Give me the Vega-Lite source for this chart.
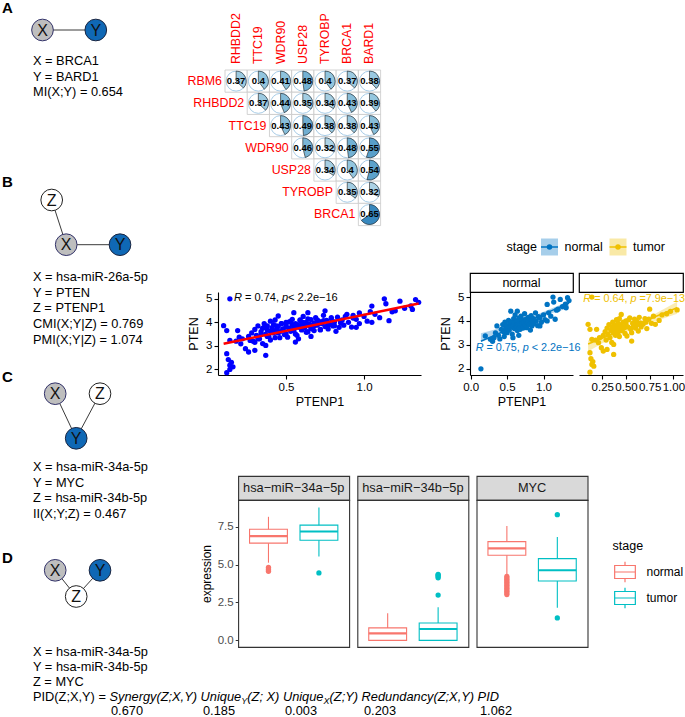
{
"$schema": "https://vega.github.io/schema/vega-lite/v6.json",
"padding": 0,
"background": "white",
"config": {
  "view": {"stroke": null},
  "font": "Liberation Sans",
  "text": {"font": "Liberation Sans", "color": "black"},
  "axis": {"labelFont": "Liberation Sans", "titleFont": "Liberation Sans", "grid": false, "titleFontWeight": "normal", "labelOverlap": false}
},
"datasets": {
  "nodes": [
    {"panel":"A","node":"X","gx":42.5,"gy":30},
    {"panel":"A","node":"Y","gx":95.8,"gy":30},
    {"panel":"B","node":"Z","gx":51.7,"gy":200},
    {"panel":"B","node":"X","gx":66.2,"gy":244.7},
    {"panel":"B","node":"Y","gx":120,"gy":244.7},
    {"panel":"C","node":"X","gx":55.2,"gy":393.7},
    {"panel":"C","node":"Z","gx":100,"gy":393.7},
    {"panel":"C","node":"Y","gx":76.2,"gy":438.3},
    {"panel":"D","node":"X","gx":55.2,"gy":570.3},
    {"panel":"D","node":"Y","gx":100,"gy":570.3},
    {"panel":"D","node":"Z","gx":76.2,"gy":596.5}
  ],
  "edges": [
    {"panel":"A","x1":42.5,"y1":30,"x2":95.8,"y2":30},
    {"panel":"B","x1":51.7,"y1":200,"x2":66.2,"y2":244.7},
    {"panel":"B","x1":66.2,"y1":244.7,"x2":120,"y2":244.7},
    {"panel":"C","x1":55.2,"y1":393.7,"x2":76.2,"y2":438.3},
    {"panel":"C","x1":100,"y1":393.7,"x2":76.2,"y2":438.3},
    {"panel":"D","x1":55.2,"y1":570.3,"x2":76.2,"y2":596.5},
    {"panel":"D","x1":100,"y1":570.3,"x2":76.2,"y2":596.5}
  ],
  "panels": [
    {"panel":"A","gx":2,"gy":8},
    {"panel":"B","gx":2,"gy":182},
    {"panel":"C","gx":2,"gy":377},
    {"panel":"D","gx":2,"gy":557.5}
  ],
  "lines": [
    {"gx":33,"gy":61,"text":"X = BRCA1"},
    {"gx":33,"gy":76.7,"text":"Y = BARD1"},
    {"gx":33,"gy":92,"text":"MI(X;Y) = 0.654"},
    {"gx":33,"gy":277,"text":"X = hsa-miR-26a-5p"},
    {"gx":33,"gy":292.7,"text":"Y = PTEN"},
    {"gx":33,"gy":308.3,"text":"Z = PTENP1"},
    {"gx":33,"gy":324,"text":"CMI(X;Y|Z) = 0.769"},
    {"gx":33,"gy":339.5,"text":"PMI(X;Y|Z) = 1.074"},
    {"gx":33,"gy":467,"text":"X = hsa-miR-34a-5p"},
    {"gx":33,"gy":483,"text":"Y = MYC"},
    {"gx":33,"gy":498.3,"text":"Z = hsa-miR-34b-5p"},
    {"gx":33,"gy":513.5,"text":"II(X;Y;Z) = 0.467"},
    {"gx":33,"gy":652,"text":"X = hsa-miR-34a-5p"},
    {"gx":33,"gy":667,"text":"Y = hsa-miR-34b-5p"},
    {"gx":33,"gy":682,"text":"Z = MYC"},
    {"gx":33,"gy":697,"text":"PID(Z;X,Y) ="},
    {"gx":111,"gy":711,"text":"0.670"},
    {"gx":203,"gy":711,"text":"0.185"},
    {"gx":285,"gy":711,"text":"0.003"},
    {"gx":364,"gy":711,"text":"0.203"},
    {"gx":480,"gy":711,"text":"1.062"}
  ],
  "terms": [
    {"gx":109.5,"gy":697,"text":"Synergy(Z;X,Y)"},
    {"gx":200.6,"gy":697,"text":"Unique"},
    {"gx":247.3,"gy":697,"text":"(Z; X)"},
    {"gx":282.9,"gy":697,"text":"Unique"},
    {"gx":329.6,"gy":697,"text":"(Z;Y)"},
    {"gx":361.6,"gy":697,"text":"Redundancy(Z;X,Y)"},
    {"gx":477.6,"gy":697,"text":"PID"}
  ],
  "subs": [
    {"gx":241.3,"gy":701,"text":"Y"},
    {"gx":323.6,"gy":701,"text":"X"}
  ],
  "corr": [
    {"row":"RBM6","col":"RHBDD2","value":0.37},{"row":"RBM6","col":"TTC19","value":0.4},{"row":"RBM6","col":"WDR90","value":0.41},{"row":"RBM6","col":"USP28","value":0.48},{"row":"RBM6","col":"TYROBP","value":0.4},{"row":"RBM6","col":"BRCA1","value":0.37},{"row":"RBM6","col":"BARD1","value":0.38},
    {"row":"RHBDD2","col":"TTC19","value":0.37},{"row":"RHBDD2","col":"WDR90","value":0.44},{"row":"RHBDD2","col":"USP28","value":0.35},{"row":"RHBDD2","col":"TYROBP","value":0.34},{"row":"RHBDD2","col":"BRCA1","value":0.43},{"row":"RHBDD2","col":"BARD1","value":0.39},
    {"row":"TTC19","col":"WDR90","value":0.43},{"row":"TTC19","col":"USP28","value":0.49},{"row":"TTC19","col":"TYROBP","value":0.38},{"row":"TTC19","col":"BRCA1","value":0.38},{"row":"TTC19","col":"BARD1","value":0.43},
    {"row":"WDR90","col":"USP28","value":0.46},{"row":"WDR90","col":"TYROBP","value":0.32},{"row":"WDR90","col":"BRCA1","value":0.48},{"row":"WDR90","col":"BARD1","value":0.55},
    {"row":"USP28","col":"TYROBP","value":0.34},{"row":"USP28","col":"BRCA1","value":0.4},{"row":"USP28","col":"BARD1","value":0.54},
    {"row":"TYROBP","col":"BRCA1","value":0.35},{"row":"TYROBP","col":"BARD1","value":0.32},
    {"row":"BRCA1","col":"BARD1","value":0.65}
  ],
  "corrRows": [
    {"gene":"RBM6","first":"RHBDD2"},{"gene":"RHBDD2","first":"TTC19"},{"gene":"TTC19","first":"WDR90"},{"gene":"WDR90","first":"USP28"},{"gene":"USP28","first":"TYROBP"},{"gene":"TYROBP","first":"BRCA1"},{"gene":"BRCA1","first":"BARD1"}
  ],
  "corrCols": [
    {"gene":"RHBDD2"},{"gene":"TTC19"},{"gene":"WDR90"},{"gene":"USP28"},{"gene":"TYROBP"},{"gene":"BRCA1"},{"gene":"BARD1"}
  ],
  "scatter": [
    {"stage":"normal","PTENP1":0.14,"PTEN":2.00},{"stage":"normal","PTENP1":0.20,"PTEN":3.37},{"stage":"normal","PTENP1":0.27,"PTEN":3.23},{"stage":"normal","PTENP1":0.30,"PTEN":3.15},{"stage":"normal","PTENP1":0.32,"PTEN":3.30},{"stage":"normal","PTENP1":0.34,"PTEN":3.50},{"stage":"normal","PTENP1":0.36,"PTEN":3.79},{"stage":"normal","PTENP1":0.38,"PTEN":3.40},{"stage":"normal","PTENP1":0.40,"PTEN":3.25},
    {"stage":"normal","PTENP1":0.42,"PTEN":3.65},{"stage":"normal","PTENP1":0.44,"PTEN":3.85},{"stage":"normal","PTENP1":0.45,"PTEN":3.55},{"stage":"normal","PTENP1":0.46,"PTEN":3.35},{"stage":"normal","PTENP1":0.47,"PTEN":3.95},{"stage":"normal","PTENP1":0.48,"PTEN":3.70},{"stage":"normal","PTENP1":0.50,"PTEN":3.51},{"stage":"normal","PTENP1":0.50,"PTEN":3.80},{"stage":"normal","PTENP1":0.52,"PTEN":4.02},{"stage":"normal","PTENP1":0.53,"PTEN":3.62},
    {"stage":"normal","PTENP1":0.54,"PTEN":3.88},{"stage":"normal","PTENP1":0.55,"PTEN":4.41},{"stage":"normal","PTENP1":0.55,"PTEN":3.75},{"stage":"normal","PTENP1":0.56,"PTEN":3.95},{"stage":"normal","PTENP1":0.57,"PTEN":3.45},{"stage":"normal","PTENP1":0.58,"PTEN":3.82},{"stage":"normal","PTENP1":0.58,"PTEN":3.30},{"stage":"normal","PTENP1":0.59,"PTEN":4.10},{"stage":"normal","PTENP1":0.60,"PTEN":3.68},{"stage":"normal","PTENP1":0.60,"PTEN":3.92},
    {"stage":"normal","PTENP1":0.61,"PTEN":4.25},{"stage":"normal","PTENP1":0.62,"PTEN":3.78},{"stage":"normal","PTENP1":0.63,"PTEN":4.00},{"stage":"normal","PTENP1":0.64,"PTEN":4.41},{"stage":"normal","PTENP1":0.64,"PTEN":3.60},{"stage":"normal","PTENP1":0.65,"PTEN":3.86},{"stage":"normal","PTENP1":0.66,"PTEN":4.12},{"stage":"normal","PTENP1":0.66,"PTEN":3.40},{"stage":"normal","PTENP1":0.67,"PTEN":3.72},{"stage":"normal","PTENP1":0.68,"PTEN":3.65},
    {"stage":"normal","PTENP1":0.68,"PTEN":3.98},{"stage":"normal","PTENP1":0.69,"PTEN":4.20},{"stage":"normal","PTENP1":0.70,"PTEN":3.88},{"stage":"normal","PTENP1":0.71,"PTEN":4.05},{"stage":"normal","PTENP1":0.72,"PTEN":3.70},{"stage":"normal","PTENP1":0.73,"PTEN":3.95},{"stage":"normal","PTENP1":0.74,"PTEN":4.30},{"stage":"normal","PTENP1":0.75,"PTEN":3.82},{"stage":"normal","PTENP1":0.76,"PTEN":4.08},{"stage":"normal","PTENP1":0.77,"PTEN":3.72},
    {"stage":"normal","PTENP1":0.78,"PTEN":3.92},{"stage":"normal","PTENP1":0.79,"PTEN":4.15},{"stage":"normal","PTENP1":0.80,"PTEN":3.85},{"stage":"normal","PTENP1":0.81,"PTEN":4.02},{"stage":"normal","PTENP1":0.82,"PTEN":3.62},{"stage":"normal","PTENP1":0.83,"PTEN":4.22},{"stage":"normal","PTENP1":0.84,"PTEN":3.79},{"stage":"normal","PTENP1":0.85,"PTEN":3.98},{"stage":"normal","PTENP1":0.86,"PTEN":4.10},{"stage":"normal","PTENP1":0.87,"PTEN":3.88},
    {"stage":"normal","PTENP1":0.89,"PTEN":4.34},{"stage":"normal","PTENP1":0.90,"PTEN":4.00},{"stage":"normal","PTENP1":0.92,"PTEN":3.80},{"stage":"normal","PTENP1":0.93,"PTEN":4.18},{"stage":"normal","PTENP1":0.95,"PTEN":4.13},{"stage":"normal","PTENP1":0.95,"PTEN":3.79},{"stage":"normal","PTENP1":0.97,"PTEN":3.95},{"stage":"normal","PTENP1":1.00,"PTEN":4.25},{"stage":"normal","PTENP1":1.02,"PTEN":4.05},{"stage":"normal","PTENP1":1.05,"PTEN":4.00},
    {"stage":"normal","PTENP1":1.05,"PTEN":4.69},{"stage":"normal","PTENP1":1.07,"PTEN":4.34},{"stage":"normal","PTENP1":1.10,"PTEN":4.20},{"stage":"normal","PTENP1":1.13,"PTEN":5.00},{"stage":"normal","PTENP1":1.14,"PTEN":4.79},{"stage":"normal","PTENP1":1.16,"PTEN":4.07},{"stage":"normal","PTENP1":1.18,"PTEN":4.45},{"stage":"normal","PTENP1":1.20,"PTEN":4.49},{"stage":"normal","PTENP1":1.23,"PTEN":4.90},{"stage":"normal","PTENP1":1.26,"PTEN":4.60},
    {"stage":"normal","PTENP1":1.30,"PTEN":4.70},{"stage":"normal","PTENP1":1.31,"PTEN":4.55},{"stage":"normal","PTENP1":1.33,"PTEN":4.97},{"stage":"normal","PTENP1":1.35,"PTEN":4.85},
    {"stage":"tumor","PTENP1":0.14,"PTEN":5.00},{"stage":"tumor","PTENP1":0.12,"PTEN":2.67},{"stage":"tumor","PTENP1":0.13,"PTEN":2.42},{"stage":"tumor","PTENP1":0.14,"PTEN":2.18},{"stage":"tumor","PTENP1":0.16,"PTEN":2.11},{"stage":"tumor","PTENP1":0.12,"PTEN":1.86},{"stage":"tumor","PTENP1":0.15,"PTEN":2.30},
    {"stage":"tumor","PTENP1":0.14,"PTEN":3.23},{"stage":"tumor","PTENP1":0.12,"PTEN":3.65},{"stage":"tumor","PTENP1":0.10,"PTEN":3.86},{"stage":"tumor","PTENP1":0.19,"PTEN":3.65},{"stage":"tumor","PTENP1":0.21,"PTEN":3.09},{"stage":"tumor","PTENP1":0.24,"PTEN":2.88},{"stage":"tumor","PTENP1":0.26,"PTEN":2.74},{"stage":"tumor","PTENP1":0.22,"PTEN":3.30},{"stage":"tumor","PTENP1":0.18,"PTEN":3.20},{"stage":"tumor","PTENP1":0.30,"PTEN":2.81},{"stage":"tumor","PTENP1":0.37,"PTEN":2.60},{"stage":"tumor","PTENP1":0.37,"PTEN":3.02},
    {"stage":"tumor","PTENP1":0.26,"PTEN":3.40},{"stage":"tumor","PTENP1":0.28,"PTEN":3.55},{"stage":"tumor","PTENP1":0.29,"PTEN":3.20},{"stage":"tumor","PTENP1":0.30,"PTEN":3.70},{"stage":"tumor","PTENP1":0.31,"PTEN":3.45},{"stage":"tumor","PTENP1":0.32,"PTEN":3.85},{"stage":"tumor","PTENP1":0.33,"PTEN":3.30},{"stage":"tumor","PTENP1":0.34,"PTEN":3.60},{"stage":"tumor","PTENP1":0.35,"PTEN":3.75},{"stage":"tumor","PTENP1":0.35,"PTEN":3.10},
    {"stage":"tumor","PTENP1":0.36,"PTEN":3.95},{"stage":"tumor","PTENP1":0.37,"PTEN":3.50},{"stage":"tumor","PTENP1":0.38,"PTEN":3.68},{"stage":"tumor","PTENP1":0.38,"PTEN":3.85},{"stage":"tumor","PTENP1":0.39,"PTEN":3.40},{"stage":"tumor","PTENP1":0.40,"PTEN":3.62},{"stage":"tumor","PTENP1":0.40,"PTEN":4.05},{"stage":"tumor","PTENP1":0.41,"PTEN":3.78},{"stage":"tumor","PTENP1":0.42,"PTEN":3.55},{"stage":"tumor","PTENP1":0.42,"PTEN":3.90},
    {"stage":"tumor","PTENP1":0.43,"PTEN":4.10},{"stage":"tumor","PTENP1":0.43,"PTEN":3.35},{"stage":"tumor","PTENP1":0.44,"PTEN":3.70},{"stage":"tumor","PTENP1":0.45,"PTEN":4.27},{"stage":"tumor","PTENP1":0.45,"PTEN":3.82},{"stage":"tumor","PTENP1":0.46,"PTEN":3.60},{"stage":"tumor","PTENP1":0.47,"PTEN":3.95},{"stage":"tumor","PTENP1":0.48,"PTEN":3.72},{"stage":"tumor","PTENP1":0.49,"PTEN":3.48},{"stage":"tumor","PTENP1":0.50,"PTEN":3.88},
    {"stage":"tumor","PTENP1":0.50,"PTEN":4.00},{"stage":"tumor","PTENP1":0.51,"PTEN":3.37},{"stage":"tumor","PTENP1":0.52,"PTEN":3.75},{"stage":"tumor","PTENP1":0.53,"PTEN":4.05},{"stage":"tumor","PTENP1":0.54,"PTEN":4.13},{"stage":"tumor","PTENP1":0.55,"PTEN":3.65},{"stage":"tumor","PTENP1":0.56,"PTEN":3.51},{"stage":"tumor","PTENP1":0.56,"PTEN":3.16},{"stage":"tumor","PTENP1":0.57,"PTEN":3.90},{"stage":"tumor","PTENP1":0.58,"PTEN":3.80},
    {"stage":"tumor","PTENP1":0.59,"PTEN":4.08},{"stage":"tumor","PTENP1":0.60,"PTEN":3.70},{"stage":"tumor","PTENP1":0.61,"PTEN":4.00},{"stage":"tumor","PTENP1":0.62,"PTEN":3.85},{"stage":"tumor","PTENP1":0.63,"PTEN":3.58},{"stage":"tumor","PTENP1":0.64,"PTEN":4.15},{"stage":"tumor","PTENP1":0.65,"PTEN":3.92},{"stage":"tumor","PTENP1":0.66,"PTEN":3.75},{"stage":"tumor","PTENP1":0.68,"PTEN":3.86},{"stage":"tumor","PTENP1":0.70,"PTEN":4.10},
    {"stage":"tumor","PTENP1":0.71,"PTEN":3.95},{"stage":"tumor","PTENP1":0.72,"PTEN":3.68},{"stage":"tumor","PTENP1":0.74,"PTEN":4.07},{"stage":"tumor","PTENP1":0.75,"PTEN":4.49},{"stage":"tumor","PTENP1":0.77,"PTEN":3.90},{"stage":"tumor","PTENP1":0.79,"PTEN":4.20},{"stage":"tumor","PTENP1":0.81,"PTEN":3.86},{"stage":"tumor","PTENP1":0.85,"PTEN":4.02},{"stage":"tumor","PTENP1":0.88,"PTEN":4.25},{"stage":"tumor","PTENP1":0.93,"PTEN":4.30},
    {"stage":"tumor","PTENP1":0.97,"PTEN":4.40},{"stage":"tumor","PTENP1":1.04,"PTEN":4.46}
  ],
  "band": [
    {"stage":"normal","PTENP1":0.14,"lo":3.17,"hi":3.49},{"stage":"normal","PTENP1":0.40,"lo":3.54,"hi":3.70},{"stage":"normal","PTENP1":0.70,"lo":3.91,"hi":4.01},{"stage":"normal","PTENP1":1.00,"lo":4.22,"hi":4.38},{"stage":"normal","PTENP1":1.35,"lo":4.53,"hi":4.83},
    {"stage":"tumor","PTENP1":0.10,"lo":2.72,"hi":3.18},{"stage":"tumor","PTENP1":0.30,"lo":3.17,"hi":3.41},{"stage":"tumor","PTENP1":0.45,"lo":3.45,"hi":3.63},{"stage":"tumor","PTENP1":0.75,"lo":3.90,"hi":4.18},{"stage":"tumor","PTENP1":1.04,"lo":4.30,"hi":4.80}
  ],
  "stats": [
    {"stage":"all","lx":0.1666,"ly":5.03,"rtext":"= 0.74,","ptext":"< 2.2e−16"},
    {"stage":"normal","lx":0.068,"ly":2.88,"rtext":"= 0.75,","ptext":"< 2.2e−16"},
    {"stage":"tumor","lx":0.05,"ly":4.93,"rtext":"= 0.64,","ptext":"=7.9e−13"}
  ],
  "boxes": [
    {"gene":"hsa-miR-34a-5p","stage":"normal","lower":5.13,"q1":6.42,"median":6.88,"q3":7.34,"upper":8.16},
    {"gene":"hsa-miR-34a-5p","stage":"tumor","lower":5.53,"q1":6.61,"median":7.19,"q3":7.61,"upper":8.78},
    {"gene":"hsa-miR-34b-5p","stage":"normal","lower":0.0,"q1":0.0,"median":0.46,"q3":0.82,"upper":1.79},
    {"gene":"hsa-miR-34b-5p","stage":"tumor","lower":0.0,"q1":0.0,"median":0.75,"q3":1.15,"upper":2.19},
    {"gene":"MYC","stage":"normal","lower":4.35,"q1":5.62,"median":6.08,"q3":6.52,"upper":7.56},
    {"gene":"MYC","stage":"tumor","lower":2.15,"q1":3.92,"median":4.63,"q3":5.40,"upper":6.83}
  ],
  "outliers": [
    {"gene":"hsa-miR-34a-5p","stage":"normal","value":4.82},{"gene":"hsa-miR-34a-5p","stage":"normal","value":4.72},{"gene":"hsa-miR-34a-5p","stage":"normal","value":4.64},{"gene":"hsa-miR-34a-5p","stage":"normal","value":4.56},
    {"gene":"hsa-miR-34a-5p","stage":"tumor","value":4.45},
    {"gene":"hsa-miR-34b-5p","stage":"tumor","value":2.99},{"gene":"hsa-miR-34b-5p","stage":"tumor","value":4.13},{"gene":"hsa-miR-34b-5p","stage":"tumor","value":4.22},{"gene":"hsa-miR-34b-5p","stage":"tumor","value":4.30},{"gene":"hsa-miR-34b-5p","stage":"tumor","value":4.36},
    {"gene":"MYC","stage":"normal","value":4.22},{"gene":"MYC","stage":"normal","value":4.12},{"gene":"MYC","stage":"normal","value":4.02},{"gene":"MYC","stage":"normal","value":3.92},{"gene":"MYC","stage":"normal","value":3.82},{"gene":"MYC","stage":"normal","value":3.72},{"gene":"MYC","stage":"normal","value":3.62},{"gene":"MYC","stage":"normal","value":3.52},{"gene":"MYC","stage":"normal","value":3.42},{"gene":"MYC","stage":"normal","value":3.32},{"gene":"MYC","stage":"normal","value":3.22},{"gene":"MYC","stage":"normal","value":3.12},{"gene":"MYC","stage":"normal","value":3.02},
    {"gene":"MYC","stage":"tumor","value":8.30},{"gene":"MYC","stage":"tumor","value":1.48}
  ],
  "stages": [{"stage":"normal"},{"stage":"tumor"}]
},
"resolve": {"scale": {"color": "independent", "fill": "independent", "stroke": "independent"}},
"hconcat": [
  {
    "width": 218, "height": 717,
    "layer": [
      {"data": {"name": "edges"}, "mark": {"type": "rule", "stroke": "#3A3A3A", "strokeWidth": 1},
       "encoding": {
         "x": {"field": "x1", "type": "quantitative", "scale": {"domain": [0, 218], "nice": false, "zero": false}, "axis": null},
         "y": {"field": "y1", "type": "quantitative", "scale": {"domain": [0, 717], "nice": false, "zero": false, "reverse": true}, "axis": null},
         "x2": {"field": "x2"}, "y2": {"field": "y2"}}},
      {"data": {"name": "nodes"}, "mark": {"type": "point", "shape": "circle", "filled": true, "size": 470, "strokeWidth": 1, "opacity": 1},
       "encoding": {
         "x": {"field": "gx", "type": "quantitative", "axis": null},
         "y": {"field": "gy", "type": "quantitative", "axis": null},
         "fill": {"field": "node", "type": "nominal", "scale": {"domain": ["X","Y","Z"], "range": ["#BEBEBE","#0F68B5","#FFFFFF"]}, "legend": null},
         "stroke": {"field": "node", "type": "nominal", "scale": {"domain": ["X","Y","Z"], "range": ["#33336A","#1B2540","#222222"]}, "legend": null}}},
      {"data": {"name": "nodes"}, "mark": {"type": "text", "fontSize": 16, "color": "#111111", "dy": 0.5},
       "encoding": {
         "x": {"field": "gx", "type": "quantitative", "axis": null},
         "y": {"field": "gy", "type": "quantitative", "axis": null},
         "text": {"field": "node"}}},
      {"data": {"name": "panels"}, "mark": {"type": "text", "fontSize": 15, "fontWeight": "bold", "align": "left", "color": "black"},
       "encoding": {
         "x": {"field": "gx", "type": "quantitative", "axis": null},
         "y": {"field": "gy", "type": "quantitative", "axis": null},
         "text": {"field": "panel"}}},
      {"data": {"name": "lines"}, "mark": {"type": "text", "fontSize": 12.8, "align": "left", "color": "black"},
       "encoding": {
         "x": {"field": "gx", "type": "quantitative", "axis": null},
         "y": {"field": "gy", "type": "quantitative", "axis": null},
         "text": {"field": "text"}}},
      {"data": {"name": "terms"}, "mark": {"type": "text", "fontSize": 12.8, "fontStyle": "italic", "align": "left", "color": "black"},
       "encoding": {
         "x": {"field": "gx", "type": "quantitative", "axis": null},
         "y": {"field": "gy", "type": "quantitative", "axis": null},
         "text": {"field": "text"}}},
      {"data": {"name": "subs"}, "mark": {"type": "text", "fontSize": 9, "fontStyle": "italic", "align": "left", "color": "black"},
       "encoding": {
         "x": {"field": "gx", "type": "quantitative", "axis": null},
         "y": {"field": "gy", "type": "quantitative", "axis": null},
         "text": {"field": "text"}}}
    ]
  },
  {
    "resolve": {"scale": {"color": "independent", "fill": "independent", "stroke": "independent"}},
    "vconcat": [
      {"width": 1, "height": 70, "data": {"values": [{}]}, "mark": {"type": "point", "opacity": 0}},
      {
        "hconcat": [
          {"width": 0.4, "height": 1, "data": {"values": [{}]}, "mark": {"type": "point", "opacity": 0}},
          {
            "width": 155.6, "height": 155.6,
            "layer": [
              {"data": {"name": "corr"}, "mark": {"type": "rect", "fill": "white", "stroke": "#C8C8C8", "strokeWidth": 0.8},
               "encoding": {
                 "x": {"field": "col", "type": "nominal", "scale": {"domain": ["RHBDD2","TTC19","WDR90","USP28","TYROBP","BRCA1","BARD1"], "paddingInner": 0, "paddingOuter": 0}, "axis": null},
                 "y": {"field": "row", "type": "nominal", "scale": {"domain": ["RBM6","RHBDD2","TTC19","WDR90","USP28","TYROBP","BRCA1"], "paddingInner": 0, "paddingOuter": 0}, "axis": null}}},
              {"data": {"name": "corr"}, "mark": {"type": "point", "shape": "circle", "filled": false, "size": 400, "stroke": "#A6CBE6", "strokeWidth": 1, "opacity": 1},
               "encoding": {
                 "x": {"field": "col", "type": "nominal", "axis": null},
                 "y": {"field": "row", "type": "nominal", "axis": null}}},
              {"data": {"name": "corr"}, "mark": {"type": "arc", "outerRadius": 10, "stroke": "#1A1A1A", "strokeWidth": 0.6},
               "encoding": {
                 "x": {"field": "col", "type": "nominal", "axis": null},
                 "y": {"field": "row", "type": "nominal", "axis": null},
                 "theta": {"field": "value", "type": "quantitative", "stack": null, "scale": {"domain": [0, 1], "range": [0, 6.283185]}},
                 "fill": {"field": "value", "type": "quantitative", "scale": {"domain": [0, 0.2, 0.4, 0.6, 0.8, 1], "range": ["#FFFFFF","#D1E5F0","#92C5DE","#4393C3","#2166AC","#053061"]}, "legend": null}}},
              {"data": {"name": "corr"}, "mark": {"type": "text", "fontSize": 9.5, "fontWeight": "bold", "color": "black"},
               "encoding": {
                 "x": {"field": "col", "type": "nominal", "axis": null},
                 "y": {"field": "row", "type": "nominal", "axis": null},
                 "text": {"field": "value", "type": "quantitative", "format": ".2~f"}}},
              {"data": {"name": "corrRows"}, "mark": {"type": "text", "align": "right", "dx": -3, "fontSize": 12.4, "color": "#FF0000"},
               "encoding": {
                 "x": {"field": "first", "type": "nominal", "bandPosition": 0, "axis": null},
                 "y": {"field": "gene", "type": "nominal", "axis": null},
                 "text": {"field": "gene"}}},
              {"data": {"name": "corrCols"}, "mark": {"type": "text", "angle": 270, "align": "left", "baseline": "middle", "dx": 17, "fontSize": 12.4, "color": "#FF0000"},
               "encoding": {
                 "x": {"field": "gene", "type": "nominal", "axis": null},
                 "y": {"datum": "RBM6", "type": "nominal", "axis": null},
                 "text": {"field": "gene"}}}
            ]
          }
        ],
        "spacing": 6, "bounds": "flush"
      },
      {"width": 1, "height": 155.6, "data": {"values": [{}]}, "mark": {"type": "point", "opacity": 0}},
      {
        "resolve": {"scale": {"color": "independent", "fill": "independent", "stroke": "independent"}},
        "vconcat": [
          {
            "hconcat": [
              {"width": 246, "height": 1, "data": {"values": [{}]}, "mark": {"type": "point", "opacity": 0}},
              {
                "width": 213, "height": 42,
                "data": {"name": "stages"},
                "encoding": {"x": {"field": "stage", "type": "nominal", "scale": {"type": "point", "domain": ["normal","tumor"], "range": [79.5, 148], "padding": 0}, "axis": null}},
                "layer": [
                  {"mark": {"type": "point", "shape": "square", "filled": true, "size": 289, "opacity": 0.35, "strokeWidth": 0},
                   "encoding": {"color": {"field": "stage", "type": "nominal", "scale": {"domain": ["normal","tumor"], "range": ["#0073C2","#EFC000"]}, "legend": null}}},
                  {"mark": {"type": "point", "shape": "M-1,0L1,0", "filled": false, "size": 289, "strokeWidth": 1.5, "opacity": 1},
                   "encoding": {"color": {"field": "stage", "type": "nominal", "legend": null}}},
                  {"mark": {"type": "point", "shape": "circle", "filled": true, "size": 30, "opacity": 1},
                   "encoding": {"color": {"field": "stage", "type": "nominal", "legend": null}}},
                  {"mark": {"type": "text", "align": "left", "dx": 15, "fontSize": 12.5, "color": "black"},
                   "encoding": {"text": {"field": "stage"}}},
                  {"transform": [{"filter": "datum.stage === 'normal'"}],
                   "mark": {"type": "text", "text": "stage", "align": "right", "dx": -12.5, "fontSize": 12.5, "color": "black"}}
                ]
              }
            ],
            "spacing": 6, "bounds": "flush"
          },
          {"width": 1, "height": 46.4, "data": {"values": [{}]}, "mark": {"type": "point", "opacity": 0}},
          {
            "hconcat": [
              {"width": 246, "height": 1, "data": {"values": [{}]}, "mark": {"type": "point", "opacity": 0}},
              {"width": 103, "height": 19, "view": {"stroke": "black", "strokeWidth": 1.2, "fill": "white"},
               "data": {"values": [{"label": "normal"}]}, "mark": {"type": "text", "fontSize": 12.5, "color": "black"},
               "encoding": {"text": {"field": "label"}}},
              {"width": 104, "height": 19, "view": {"stroke": "black", "strokeWidth": 1.2, "fill": "white"},
               "data": {"values": [{"label": "tumor"}]}, "mark": {"type": "text", "fontSize": 12.5, "color": "black"},
               "encoding": {"text": {"field": "label"}}}
            ],
            "spacing": 6, "bounds": "flush"
          },
          {"width": 1, "height": 19, "data": {"values": [{}]}, "mark": {"type": "point", "opacity": 0}},
          {
            "hconcat": [
              {
                "width": 203, "height": 83,
                "encoding": {
                  "x": {"field": "PTENP1", "type": "quantitative", "scale": {"domain": [0.064, 1.365], "nice": false, "zero": false},
                        "axis": {"values": [0.5, 1.0], "format": ".1f", "title": "PTENP1", "domainColor": "black", "domainWidth": 1.1, "tickColor": "black", "tickWidth": 1.1, "tickSize": 4, "labelColor": "black", "labelFontSize": 11.5, "titleFontSize": 12.5, "titleColor": "black", "labelPadding": 2, "titlePadding": 3, "labelOverlap": false, "labelFlush": false, "labelBound": false}},
                  "y": {"field": "PTEN", "type": "quantitative", "scale": {"domain": [1.763, 5.29], "nice": false, "zero": false},
                        "axis": {"values": [2, 3, 4, 5], "title": "PTEN", "domainColor": "black", "domainWidth": 1.1, "tickColor": "black", "tickWidth": 1.1, "tickSize": 4, "labelColor": "black", "labelFontSize": 11.5, "titleFontSize": 12.5, "titleColor": "black", "labelPadding": 2, "titlePadding": 5, "labelOverlap": false, "labelFlush": false, "labelBound": false}}
                },
                "layer": [
                  {"data": {"name": "scatter"}, "mark": {"type": "point", "filled": true, "size": 28, "color": "#0000FF", "opacity": 1}},
                  {"data": {"name": "scatter"}, "transform": [{"regression": "PTEN", "on": "PTENP1"}],
                   "mark": {"type": "line", "color": "#FF0000", "strokeWidth": 2.5}},
                  {"data": {"name": "stats"}, "transform": [{"filter": "datum.stage === 'all'"}],
                   "mark": {"type": "text", "text": "R", "fontStyle": "italic", "align": "left", "fontSize": 11, "color": "black"},
                   "encoding": {"x": {"field": "lx", "type": "quantitative"}, "y": {"field": "ly", "type": "quantitative"}}},
                  {"data": {"name": "stats"}, "transform": [{"filter": "datum.stage === 'all'"}],
                   "mark": {"type": "text", "align": "left", "dx": 11, "fontSize": 11, "color": "black"},
                   "encoding": {"x": {"field": "lx", "type": "quantitative"}, "y": {"field": "ly", "type": "quantitative"}, "text": {"field": "rtext"}}},
                  {"data": {"name": "stats"}, "transform": [{"filter": "datum.stage === 'all'"}],
                   "mark": {"type": "text", "text": "p", "fontStyle": "italic", "align": "left", "dx": 48, "fontSize": 11, "color": "black"},
                   "encoding": {"x": {"field": "lx", "type": "quantitative"}, "y": {"field": "ly", "type": "quantitative"}}},
                  {"data": {"name": "stats"}, "transform": [{"filter": "datum.stage === 'all'"}],
                   "mark": {"type": "text", "align": "left", "dx": 54.1, "fontSize": 11, "color": "black"},
                   "encoding": {"x": {"field": "lx", "type": "quantitative"}, "y": {"field": "ly", "type": "quantitative"}, "text": {"field": "ptext"}}}
                ]
              },
              {"width": 37, "height": 1, "data": {"values": [{}]}, "mark": {"type": "point", "opacity": 0}},
              {
                "width": 103, "height": 83,
                "encoding": {
                  "x": {"field": "PTENP1", "type": "quantitative", "scale": {"domain": [-0.01, 1.405], "nice": false, "zero": false},
                        "axis": {"values": [0, 0.5, 1.0], "format": ".1f", "title": "PTENP1", "domainColor": "black", "domainWidth": 1.1, "tickColor": "black", "tickWidth": 1.1, "tickSize": 4, "labelColor": "black", "labelFontSize": 11.5, "titleFontSize": 12.5, "titleColor": "black", "labelPadding": 2, "titlePadding": 3, "labelOverlap": false, "labelFlush": false, "labelBound": false}},
                  "y": {"field": "PTEN", "type": "quantitative", "scale": {"domain": [1.74, 5.21], "nice": false, "zero": false},
                        "axis": {"values": [2, 3, 4, 5], "title": "PTEN", "domainColor": "black", "domainWidth": 1.1, "tickColor": "black", "tickWidth": 1.1, "tickSize": 4, "labelColor": "black", "labelFontSize": 11.5, "titleFontSize": 12.5, "titleColor": "black", "labelPadding": 2, "titlePadding": 5, "labelOverlap": false, "labelFlush": false, "labelBound": false}}
                },
                "layer": [
                  {"data": {"name": "scatter"}, "transform": [{"filter": "datum.stage === 'normal'"}],
                   "mark": {"type": "point", "filled": true, "size": 28, "color": "#0073C2", "opacity": 1}},
                  {"data": {"name": "band"}, "transform": [{"filter": "datum.stage === 'normal'"}],
                   "mark": {"type": "area", "color": "#0073C2", "opacity": 0.3, "interpolate": "monotone"},
                   "encoding": {"y": {"field": "lo", "type": "quantitative"}, "y2": {"field": "hi"}}},
                  {"data": {"name": "scatter"}, "transform": [{"filter": "datum.stage === 'normal'"}, {"regression": "PTEN", "on": "PTENP1"}],
                   "mark": {"type": "line", "color": "#0073C2", "strokeWidth": 1.5}},
                  {"data": {"name": "stats"}, "transform": [{"filter": "datum.stage === 'normal'"}],
                   "mark": {"type": "text", "text": "R", "fontStyle": "italic", "align": "left", "fontSize": 10.8, "color": "#0073C2"},
                   "encoding": {"x": {"field": "lx", "type": "quantitative"}, "y": {"field": "ly", "type": "quantitative"}}},
                  {"data": {"name": "stats"}, "transform": [{"filter": "datum.stage === 'normal'"}],
                   "mark": {"type": "text", "align": "left", "dx": 10.8, "fontSize": 10.8, "color": "#0073C2"},
                   "encoding": {"x": {"field": "lx", "type": "quantitative"}, "y": {"field": "ly", "type": "quantitative"}, "text": {"field": "rtext"}}},
                  {"data": {"name": "stats"}, "transform": [{"filter": "datum.stage === 'normal'"}],
                   "mark": {"type": "text", "text": "p", "fontStyle": "italic", "align": "left", "dx": 47.1, "fontSize": 10.8, "color": "#0073C2"},
                   "encoding": {"x": {"field": "lx", "type": "quantitative"}, "y": {"field": "ly", "type": "quantitative"}}},
                  {"data": {"name": "stats"}, "transform": [{"filter": "datum.stage === 'normal'"}],
                   "mark": {"type": "text", "align": "left", "dx": 56.1, "fontSize": 10.8, "color": "#0073C2"},
                   "encoding": {"x": {"field": "lx", "type": "quantitative"}, "y": {"field": "ly", "type": "quantitative"}, "text": {"field": "ptext"}}}
                ]
              },
              {
                "width": 104, "height": 83,
                "encoding": {
                  "x": {"field": "PTENP1", "type": "quantitative", "scale": {"domain": [0.004, 1.102], "nice": false, "zero": false},
                        "axis": {"values": [0.25, 0.5, 0.75, 1.0], "format": ".2f", "title": null, "domainColor": "black", "domainWidth": 1.1, "tickColor": "black", "tickWidth": 1.1, "tickSize": 4, "labelColor": "black", "labelFontSize": 11.5, "labelPadding": 2, "labelOverlap": false, "labelFlush": false, "labelBound": false}}
                },
                "layer": [
                  {"data": {"name": "scatter"}, "transform": [{"filter": "datum.stage === 'tumor'"}],
                   "mark": {"type": "point", "filled": true, "size": 28, "color": "#EFC000", "opacity": 1},
                   "encoding": {
                     "y": {"field": "PTEN", "type": "quantitative", "scale": {"domain": [1.74, 5.21], "nice": false, "zero": false}, "axis": null}}},
                  {"data": {"name": "band"}, "transform": [{"filter": "datum.stage === 'tumor'"}],
                   "mark": {"type": "area", "color": "#EFC000", "opacity": 0.3, "interpolate": "monotone"},
                   "encoding": {"y": {"field": "lo", "type": "quantitative", "axis": null}, "y2": {"field": "hi"}}},
                  {"data": {"name": "scatter"}, "transform": [{"filter": "datum.stage === 'tumor'"}, {"regression": "PTEN", "on": "PTENP1"}],
                   "mark": {"type": "line", "color": "#EFC000", "strokeWidth": 1.5},
                   "encoding": {"y": {"field": "PTEN", "type": "quantitative", "axis": null}}},
                  {"data": {"name": "stats"}, "transform": [{"filter": "datum.stage === 'tumor'"}],
                   "mark": {"type": "text", "text": "R", "fontStyle": "italic", "align": "left", "fontSize": 10.8, "color": "#EFC000"},
                   "encoding": {"x": {"field": "lx", "type": "quantitative"}, "y": {"field": "ly", "type": "quantitative", "axis": null}}},
                  {"data": {"name": "stats"}, "transform": [{"filter": "datum.stage === 'tumor'"}],
                   "mark": {"type": "text", "align": "left", "dx": 10.8, "fontSize": 10.8, "color": "#EFC000"},
                   "encoding": {"x": {"field": "lx", "type": "quantitative"}, "y": {"field": "ly", "type": "quantitative", "axis": null}, "text": {"field": "rtext"}}},
                  {"data": {"name": "stats"}, "transform": [{"filter": "datum.stage === 'tumor'"}],
                   "mark": {"type": "text", "text": "p", "fontStyle": "italic", "align": "left", "dx": 47.1, "fontSize": 10.8, "color": "#EFC000"},
                   "encoding": {"x": {"field": "lx", "type": "quantitative"}, "y": {"field": "ly", "type": "quantitative", "axis": null}}},
                  {"data": {"name": "stats"}, "transform": [{"filter": "datum.stage === 'tumor'"}],
                   "mark": {"type": "text", "align": "left", "dx": 56.1, "fontSize": 10.8, "color": "#EFC000"},
                   "encoding": {"x": {"field": "lx", "type": "quantitative"}, "y": {"field": "ly", "type": "quantitative", "axis": null}, "text": {"field": "ptext"}}}
                ]
              }
            ],
            "spacing": 6, "bounds": "flush"
          }
        ],
        "spacing": 0, "bounds": "flush"
      },
      {"width": 1, "height": 148.4, "data": {"values": [{}]}, "mark": {"type": "point", "opacity": 0}},
      {
        "resolve": {"scale": {"color": "independent", "fill": "independent", "stroke": "independent"}},
        "vconcat": [
          {"width": 1, "height": 101, "data": {"values": [{}]}, "mark": {"type": "point", "opacity": 0}},
          {
            "hconcat": [
              {"width": 11.5, "height": 1, "data": {"values": [{}]}, "mark": {"type": "point", "opacity": 0}},
              {"width": 111, "height": 24, "view": {"fill": "#D9D9D9", "stroke": "#333333", "strokeWidth": 1.1},
               "data": {"values": [{"label": "hsa−miR−34a−5p"}]}, "mark": {"type": "text", "fontSize": 12.8, "color": "#1A1A1A"},
               "encoding": {"text": {"field": "label"}}},
              {"width": 111, "height": 24, "view": {"fill": "#D9D9D9", "stroke": "#333333", "strokeWidth": 1.1},
               "data": {"values": [{"label": "hsa−miR−34b−5p"}]}, "mark": {"type": "text", "fontSize": 12.8, "color": "#1A1A1A"},
               "encoding": {"text": {"field": "label"}}},
              {"width": 111, "height": 24, "view": {"fill": "#D9D9D9", "stroke": "#333333", "strokeWidth": 1.1},
               "data": {"values": [{"label": "MYC"}]}, "mark": {"type": "text", "fontSize": 12.8, "color": "#1A1A1A"},
               "encoding": {"text": {"field": "label"}}}
            ],
            "spacing": 8.2, "bounds": "flush"
          },
          {"width": 1, "height": 24, "data": {"values": [{}]}, "mark": {"type": "point", "opacity": 0}},
          {
            "hconcat": [
              {"width": 11.5, "height": 1, "data": {"values": [{}]}, "mark": {"type": "point", "opacity": 0}},
              {
                "width": 111, "height": 147,
                "view": {"stroke": "#333333", "strokeWidth": 1.1},
                "layer": [
                  {"data": {"name": "boxes"}, "transform": [{"filter": "datum.gene === 'hsa-miR-34a-5p'"}],
                   "mark": {"type": "rule", "strokeWidth": 1.1},
                   "encoding": {
                     "x": {"field": "stage", "type": "nominal", "scale": {"domain": ["normal","tumor"], "paddingInner": 0.25, "paddingOuter": 0.225}, "axis": null},
                     "y": {"field": "lower", "type": "quantitative", "scale": {"domain": [-0.44, 9.27], "nice": false, "zero": false},
                           "axis": {"values": [0, 2.5, 5, 7.5], "format": ".1f", "title": "expression", "domain": false, "tickColor": "#333333", "tickSize": 3, "labelColor": "#4D4D4D", "labelFontSize": 11.5, "titleFontSize": 12, "titleColor": "black", "labelPadding": 2, "titlePadding": 4, "labelOverlap": false}},
                     "y2": {"field": "upper"},
                     "color": {"field": "stage", "type": "nominal", "scale": {"domain": ["normal","tumor"], "range": ["#F8766D","#00BFC4"]}, "legend": null}}},
                  {"data": {"name": "boxes"}, "transform": [{"filter": "datum.gene === 'hsa-miR-34a-5p'"}],
                   "mark": {"type": "bar", "fill": "white", "strokeWidth": 1.1},
                   "encoding": {
                     "x": {"field": "stage", "type": "nominal", "axis": null},
                     "y": {"field": "q1", "type": "quantitative"},
                     "y2": {"field": "q3"},
                     "stroke": {"field": "stage", "type": "nominal", "scale": {"domain": ["normal","tumor"], "range": ["#F8766D","#00BFC4"]}, "legend": null}}},
                  {"data": {"name": "boxes"}, "transform": [{"filter": "datum.gene === 'hsa-miR-34a-5p'"}],
                   "mark": {"type": "tick", "thickness": 2.2, "size": 37.8, "opacity": 1},
                   "encoding": {
                     "x": {"field": "stage", "type": "nominal", "axis": null},
                     "y": {"field": "median", "type": "quantitative"},
                     "color": {"field": "stage", "type": "nominal", "legend": null}}},
                  {"data": {"name": "outliers"}, "transform": [{"filter": "datum.gene === 'hsa-miR-34a-5p'"}],
                   "mark": {"type": "point", "filled": true, "size": 28, "opacity": 1},
                   "encoding": {
                     "x": {"field": "stage", "type": "nominal", "axis": null},
                     "y": {"field": "value", "type": "quantitative"},
                     "color": {"field": "stage", "type": "nominal", "legend": null}}}
                ]
              },
              {
                "width": 111, "height": 147,
                "view": {"stroke": "#333333", "strokeWidth": 1.1},
                "layer": [
                  {"data": {"name": "boxes"}, "transform": [{"filter": "datum.gene === 'hsa-miR-34b-5p'"}],
                   "mark": {"type": "rule", "strokeWidth": 1.1},
                   "encoding": {
                     "x": {"field": "stage", "type": "nominal", "scale": {"domain": ["normal","tumor"], "paddingInner": 0.25, "paddingOuter": 0.225}, "axis": null},
                     "y": {"field": "lower", "type": "quantitative", "scale": {"domain": [-0.44, 9.27], "nice": false, "zero": false}, "axis": null},
                     "y2": {"field": "upper"},
                     "color": {"field": "stage", "type": "nominal", "scale": {"domain": ["normal","tumor"], "range": ["#F8766D","#00BFC4"]}, "legend": null}}},
                  {"data": {"name": "boxes"}, "transform": [{"filter": "datum.gene === 'hsa-miR-34b-5p'"}],
                   "mark": {"type": "bar", "fill": "white", "strokeWidth": 1.1},
                   "encoding": {
                     "x": {"field": "stage", "type": "nominal", "axis": null},
                     "y": {"field": "q1", "type": "quantitative", "axis": null},
                     "y2": {"field": "q3"},
                     "stroke": {"field": "stage", "type": "nominal", "scale": {"domain": ["normal","tumor"], "range": ["#F8766D","#00BFC4"]}, "legend": null}}},
                  {"data": {"name": "boxes"}, "transform": [{"filter": "datum.gene === 'hsa-miR-34b-5p'"}],
                   "mark": {"type": "tick", "thickness": 2.2, "size": 37.8, "opacity": 1},
                   "encoding": {
                     "x": {"field": "stage", "type": "nominal", "axis": null},
                     "y": {"field": "median", "type": "quantitative", "axis": null},
                     "color": {"field": "stage", "type": "nominal", "legend": null}}},
                  {"data": {"name": "outliers"}, "transform": [{"filter": "datum.gene === 'hsa-miR-34b-5p'"}],
                   "mark": {"type": "point", "filled": true, "size": 28, "opacity": 1},
                   "encoding": {
                     "x": {"field": "stage", "type": "nominal", "axis": null},
                     "y": {"field": "value", "type": "quantitative", "axis": null},
                     "color": {"field": "stage", "type": "nominal", "legend": null}}}
                ]
              },
              {
                "width": 111, "height": 147,
                "view": {"stroke": "#333333", "strokeWidth": 1.1},
                "layer": [
                  {"data": {"name": "boxes"}, "transform": [{"filter": "datum.gene === 'MYC'"}],
                   "mark": {"type": "rule", "strokeWidth": 1.1},
                   "encoding": {
                     "x": {"field": "stage", "type": "nominal", "scale": {"domain": ["normal","tumor"], "paddingInner": 0.25, "paddingOuter": 0.225}, "axis": null},
                     "y": {"field": "lower", "type": "quantitative", "scale": {"domain": [-0.44, 9.27], "nice": false, "zero": false}, "axis": null},
                     "y2": {"field": "upper"},
                     "color": {"field": "stage", "type": "nominal", "scale": {"domain": ["normal","tumor"], "range": ["#F8766D","#00BFC4"]}, "legend": null}}},
                  {"data": {"name": "boxes"}, "transform": [{"filter": "datum.gene === 'MYC'"}],
                   "mark": {"type": "bar", "fill": "white", "strokeWidth": 1.1},
                   "encoding": {
                     "x": {"field": "stage", "type": "nominal", "axis": null},
                     "y": {"field": "q1", "type": "quantitative", "axis": null},
                     "y2": {"field": "q3"},
                     "stroke": {"field": "stage", "type": "nominal", "scale": {"domain": ["normal","tumor"], "range": ["#F8766D","#00BFC4"]}, "legend": null}}},
                  {"data": {"name": "boxes"}, "transform": [{"filter": "datum.gene === 'MYC'"}],
                   "mark": {"type": "tick", "thickness": 2.2, "size": 37.8, "opacity": 1},
                   "encoding": {
                     "x": {"field": "stage", "type": "nominal", "axis": null},
                     "y": {"field": "median", "type": "quantitative", "axis": null},
                     "color": {"field": "stage", "type": "nominal", "legend": null}}},
                  {"data": {"name": "outliers"}, "transform": [{"filter": "datum.gene === 'MYC'"}],
                   "mark": {"type": "point", "filled": true, "size": 28, "opacity": 1},
                   "encoding": {
                     "x": {"field": "stage", "type": "nominal", "axis": null},
                     "y": {"field": "value", "type": "quantitative", "axis": null},
                     "color": {"field": "stage", "type": "nominal", "legend": null}}}
                ]
              },
              {
                "width": 58.4, "height": 147,
                "data": {"name": "stages"},
                "encoding": {"y": {"field": "stage", "type": "nominal", "scale": {"type": "point", "domain": ["normal","tumor"], "range": [72, 98], "padding": 0}, "axis": null}},
                "layer": [
                  {"mark": {"type": "point", "shape": "M-1,-0.63H1V0.63H-1Z M-1,0H1 M0,-0.63V-1 M0,0.63V1", "filled": false, "size": 428, "strokeWidth": 1.2, "opacity": 1},
                   "encoding": {"color": {"field": "stage", "type": "nominal", "scale": {"domain": ["normal","tumor"], "range": ["#F8766D","#00BFC4"]}, "legend": null}}},
                  {"mark": {"type": "text", "align": "left", "dx": 21.5, "fontSize": 12, "color": "black"},
                   "encoding": {"text": {"field": "stage"}}},
                  {"transform": [{"filter": "datum.stage === 'normal'"}],
                   "mark": {"type": "text", "text": "stage", "align": "left", "dx": -12.5, "dy": -26, "fontSize": 12.5, "color": "black"}}
                ]
              }
            ],
            "spacing": 8.2, "bounds": "flush"
          }
        ],
        "spacing": 0, "bounds": "flush"
      }
    ],
    "spacing": 0, "bounds": "flush"
  }
],
"spacing": 0,
"bounds": "flush"
}
